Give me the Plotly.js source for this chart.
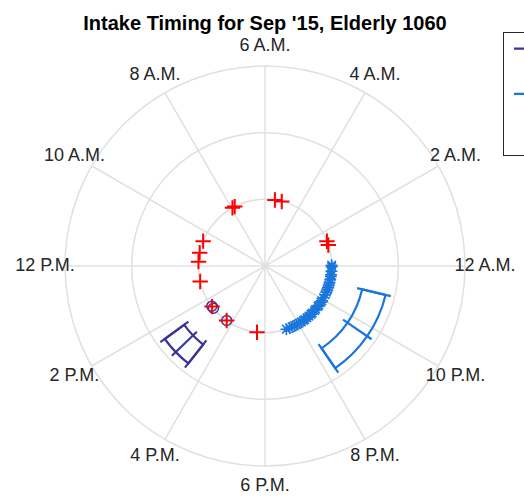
<!DOCTYPE html>
<html>
<head>
<meta charset="utf-8">
<script src="https://cdn.plot.ly/plotly-3.0.1.min.js"></script>
<style>
html,body{margin:0;padding:0;background:#ffffff;}
#chart{width:524px;height:499px;}
</style>
</head>
<body>
<div id="chart"></div>
<script>
// ---- data (hours of the day) ----
const tickHours = [0, 2, 4, 6, 8, 10, 12, 14, 16, 18, 20, 22];
const tickLabels = ['12 A.M.', '2 A.M.', '4 A.M.', '6 A.M.', '8 A.M.', '10 A.M.',
                    '12 P.M.', '2 P.M.', '4 P.M.', '6 P.M.', '8 P.M.', '10 P.M.'];
const ringValues = [1, 2, 3];

// all intakes (red +)
const intakeHours = [1.22, 1.45, 5.03, 5.43, 7.8, 7.95, 10.54, 11.24, 11.75, 12.9, 14.5, 15.66, 17.54];
const intakeR     = [1, 1, 1, 1, 1, 1, 1, 1, 1, 1, 1, 1, 1];

// afternoon cluster (navy o)
const afternoonHours = [14.47, 14.62, 15.66];
const afternoonR     = [1, 1, 1];

// evening cluster (blue *)
const eveningHours = [0.05, 23.95, 23.7, 23.5, 23.4, 23.2, 23.05, 22.9, 22.75, 22.6, 22.45, 22.3,
                      22.1, 21.9, 21.8, 21.6, 21.5, 21.3, 21.2, 21.0, 20.9, 20.75, 20.6, 20.45,
                      20.35, 20.2, 20.05, 19.9, 19.75, 19.6, 19.45, 19.25];
const eveningR     = [1, 1, 1, 1, 1, 1, 1, 1, 1, 1, 1, 1, 1, 1, 1, 1,
                      1, 1, 1, 1, 1, 1, 1, 1, 1, 1, 1, 1, 1, 1, 1, 1];

// spread summaries: [low, mean, high] in hours
const afternoonSpan = [14.4, 14.93, 15.45];
const eveningSpan   = [20.3, 21.7, 23.1];
const railRadii = [1.5, 1.86];
const rungRadii = [1.42, 1.94];

// legend entries: their text lies beyond the right edge of the reference picture
const legendNames = ['', '', ''];

// ---- styling ----
const FONT = 'Liberation Sans, Arial, Helvetica, sans-serif';
const NAVY = '#3b3598';
const BLUE = '#1a76dc';
const RED  = '#ff0000';
const GRID = '#e0e0e0';
const LABEL_R = 3.3;          // labels at 1.1 x outer ring
const LABEL_RANGE = 3.375;    // range of the label layer
const toDeg = hrs => hrs.map(h => (h === null ? null : h * 15));

function ladder(span, color, name, group, rank) {
  const lo = span[0], mid = span[1], hi = span[2];
  const box = {
    type: 'barpolar',
    theta: toDeg([mid]),
    base: [railRadii[0]],
    r: [railRadii[1] - railRadii[0]],
    width: [(hi - lo) * 15],
    marker: {color: 'rgba(0,0,0,0)', line: {color: color, width: 2.2}},
    showlegend: false,
    hoverinfo: 'skip'
  };
  const rungs = {
    type: 'scatterpolar',
    mode: 'lines',
    theta: toDeg([lo, lo, null, mid, mid, null, hi, hi]),
    r: [rungRadii[0], rungRadii[1], null, rungRadii[0], rungRadii[1], null, rungRadii[0], rungRadii[1]],
    line: {color: color, width: 2.2},
    connectgaps: false,
    name: name,
    legendgroup: group,
    legendrank: rank,
    hoverinfo: 'skip'
  };
  return [box, rungs];
}

const traces = [];
traces.push(...ladder(afternoonSpan, NAVY, legendNames[0], 'a', 1));
traces.push(...ladder(eveningSpan, BLUE, legendNames[1], 'b', 2));

traces.push({
  type: 'scatterpolar', mode: 'markers',
  theta: toDeg(afternoonHours), r: afternoonR,
  marker: {symbol: 'circle-open', size: 10, color: NAVY, line: {color: NAVY, width: 1.5}},
  showlegend: false, legendgroup: 'a'
});
traces.push({
  type: 'scatterpolar', mode: 'markers',
  theta: toDeg(eveningHours), r: eveningR,
  marker: {symbol: 'asterisk-open', size: 10, color: BLUE, line: {color: BLUE, width: 1.5}},
  showlegend: false, legendgroup: 'b'
});
traces.push({
  type: 'scatterpolar', mode: 'markers',
  theta: toDeg(intakeHours), r: intakeR,
  marker: {symbol: 'cross-thin-open', size: 11, color: RED, line: {color: RED, width: 2}},
  name: legendNames[2], legendgroup: 'c', legendrank: 3
});
// hour labels placed through a concentric label layer with the same px-per-unit scale
traces.push({
  type: 'scatterpolar', mode: 'text', subplot: 'polar2',
  theta: toDeg(tickHours), r: tickHours.map(() => LABEL_R),
  text: tickLabels,
  textposition: 'middle center',
  textfont: {family: FONT, size: 18, color: '#262626'},
  cliponaxis: false,
  showlegend: false,
  hoverinfo: 'skip'
});

const cx = 265, cy = 266, R = 200, W = 524, Hh = 499;
const R2 = R * LABEL_RANGE / 3;

const layout = {
  width: W, height: Hh,
  margin: {l: 0, r: 0, t: 0, b: 0, autoexpand: false},
  paper_bgcolor: '#ffffff',
  font: {family: FONT, color: '#262626'},
  title: {
    text: "<b>Intake Timing for Sep '15, Elderly 1060</b>",
    font: {family: FONT, size: 20, color: '#000000'},
    x: cx / W, xanchor: 'center', xref: 'paper',
    y: 1 - 23 / Hh, yanchor: 'middle', yref: 'container'
  },
  showlegend: true,
  legend: {
    x: 503 / W, xanchor: 'left', y: 1 - 32 / Hh, yanchor: 'top',
    bordercolor: '#262626', borderwidth: 1, bgcolor: '#ffffff',
    font: {family: FONT, size: 14, color: '#000000'},
    tracegroupgap: 24, indentation: 5, itemwidth: 40
  },
  polar: {
    domain: {x: [(cx - R) / W, (cx + R) / W], y: [(Hh - cy - R) / Hh, (Hh - cy + R) / Hh]},
    bgcolor: '#ffffff',
    radialaxis: {
      range: [0, 3], tickmode: 'array', tickvals: ringValues,
      showticklabels: false, ticks: '', showline: false,
      gridcolor: GRID, gridwidth: 1.5
    },
    angularaxis: {
      rotation: 0, direction: 'counterclockwise',
      tickmode: 'array', tickvals: toDeg(tickHours),
      showticklabels: false, ticks: '',
      showgrid: true, gridcolor: GRID, gridwidth: 1.5,
      showline: true, linecolor: GRID, linewidth: 1.5
    }
  },
  polar2: {
    domain: {x: [(cx - R2) / W, (cx + R2) / W], y: [(Hh - cy - R2) / Hh, (Hh - cy + R2) / Hh]},
    bgcolor: 'rgba(0,0,0,0)',
    radialaxis: {range: [0, LABEL_RANGE], visible: false, showgrid: false, showline: false, showticklabels: false, ticks: ''},
    angularaxis: {rotation: 0, direction: 'counterclockwise', visible: false, showgrid: false, showline: false, showticklabels: false, ticks: ''}
  }
};

Plotly.newPlot('chart', traces, layout, {displayModeBar: false, staticPlot: true});
</script>
</body>
</html>
